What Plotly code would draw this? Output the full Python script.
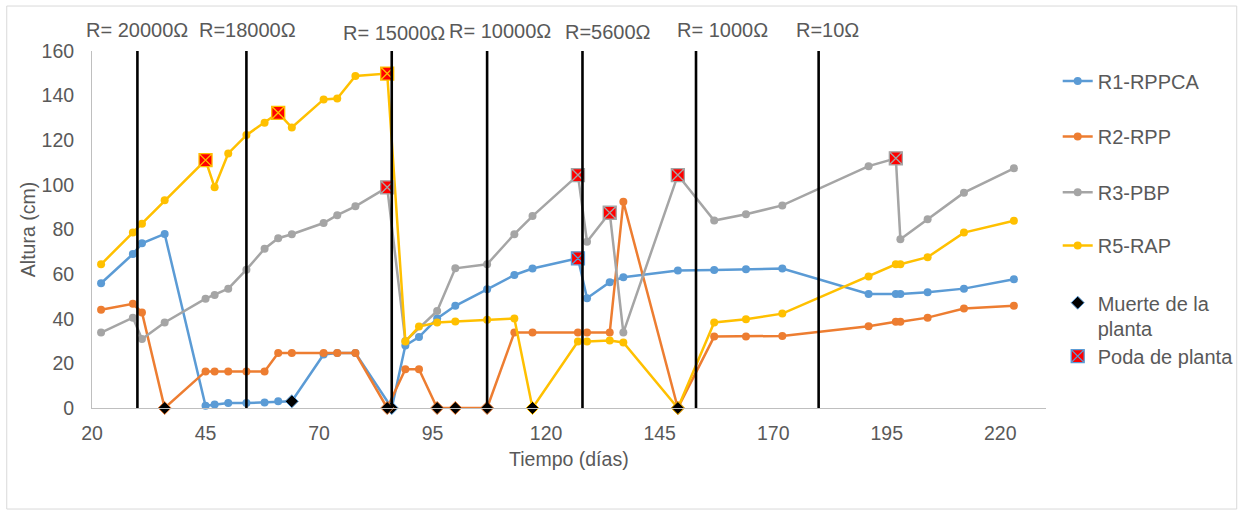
import plotly.graph_objects as go

# Días de muestreo y altura (cm) por reactor
dias_r1 = [22, 29, 31, 36, 45, 47, 50, 54, 58, 61, 64, 71, 74, 78, 86, 89, 92, 96, 100, 107,
           113, 117, 127, 129, 134, 137, 149, 157, 164, 172, 191, 197, 198, 204, 212, 223]
altura_r1 = [55.9, 69.0, 73.8, 78.0, 1.0, 1.6, 2.2, 2.2, 2.5, 3.0, 3.0, 24.0, 24.6, 24.6, 0, 28.0,
             31.8, 40.1, 45.8, 53.2, 59.6, 62.5, 67.1, 49.2, 56.4, 58.6, 61.6, 61.9, 62.2, 62.5,
             51.1, 51.1, 51.1, 51.9, 53.5, 57.7]

dias_r2 = [22, 29, 31, 36, 45, 47, 50, 54, 58, 61, 64, 71, 74, 78, 85, 89, 92, 96, 100, 107,
           113, 117, 127, 129, 134, 137, 149, 157, 164, 172, 191, 197, 198, 204, 212, 223]
altura_r2 = [44.0, 46.7, 42.8, 0, 16.4, 16.4, 16.4, 16.4, 16.4, 24.6, 24.6, 24.6, 24.6, 24.6, 0,
             17.4, 17.4, 0, 0, 0, 33.8, 33.8, 33.8, 33.8, 33.8, 92.4, 0, 32.0, 32.0, 32.3, 36.6,
             38.7, 38.7, 40.5, 44.6, 45.8]

dias_r3 = [22, 29, 31, 36, 45, 47, 50, 54, 58, 61, 64, 71, 74, 78, 85, 89, 96, 100, 107, 113,
           117, 127, 129, 134, 137, 149, 157, 164, 172, 191, 197, 198, 204, 212, 223]
altura_r3 = [33.8, 40.5, 30.9, 38.3, 49.0, 50.7, 53.5, 62.0, 71.4, 76.1, 77.9, 82.9, 86.4, 90.4,
             98.9, 30.0, 43.5, 62.6, 64.4, 77.9, 86.0, 104.4, 74.5, 87.5, 33.8, 104.4, 84.0, 86.8,
             90.8, 108.4, 111.9, 75.6, 84.6, 96.5, 107.4]

dias_r5 = [22, 29, 31, 36, 45, 47, 50, 54, 58, 61, 64, 71, 74, 78, 85, 89, 92, 96, 100, 107,
           113, 117, 127, 129, 134, 137, 149, 157, 164, 172, 191, 197, 198, 204, 212, 223]
altura_r5 = [64.4, 78.6, 82.6, 93.1, 111.1, 98.9, 114.1, 122.3, 127.8, 132.3, 125.7, 138.3, 138.7,
             148.8, 149.9, 29.8, 36.5, 38.3, 38.8, 39.5, 40.1, 0, 29.8, 29.8, 30.2, 29.4, 0, 38.3,
             39.8, 42.3, 58.9, 64.4, 64.4, 67.6, 78.6, 83.9]

# Eventos: muerte y poda de planta (día del evento en cada reactor)
muerte_r1 = [64, 86]
muerte_r2 = [36, 85, 96, 100, 107, 149]
muerte_r5 = [117, 149]
poda_r1 = [127]
poda_r3 = [85, 127, 134, 149, 197]
poda_r5 = [45, 61, 85]

# Cambios de resistencia externa
cambio_dias = [30, 54, 86, 107, 128, 153, 180]
resistencias = ["R= 20000Ω", "R=18000Ω", "R= 15000Ω", "R= 10000Ω", "R=5600Ω", "R= 1000Ω", "R=10Ω"]

AZUL, NARANJA, GRIS, AMARILLO = "#5B9BD5", "#ED7D31", "#A5A5A5", "#FFC000"
TEXTO = "#595959"
FUENTE = "Liberation Sans, Arial, sans-serif"

series = [
    ("R1-RPPCA", dias_r1, altura_r1, AZUL),
    ("R2-RPP", dias_r2, altura_r2, NARANJA),
    ("R3-PBP", dias_r3, altura_r3, GRIS),
    ("R5-RAP", dias_r5, altura_r5, AMARILLO),
]

fig = go.Figure()

for i, (nombre, x, y, color) in enumerate(series):
    fig.add_trace(go.Scatter(
        x=x, y=y, mode="lines+markers", name=nombre,
        line=dict(color=color, width=2.5),
        marker=dict(symbol="circle", size=8, color=color),
        cliponaxis=False,
        legend="legend" if i == 0 else f"legend{i + 1}",
    ))


def eventos(dias_evento, x, y):
    return [(d, y[x.index(d)]) for d in dias_evento]


# Marcadores de muerte de la planta
muertes = []
for dias_evento, (_, x, y, color) in [(muerte_r1, series[0]), (muerte_r2, series[1]), (muerte_r5, series[3])]:
    muertes += [(d, v, color) for d, v in eventos(dias_evento, x, y)]
fig.add_trace(go.Scatter(
    x=[m[0] for m in muertes], y=[m[1] for m in muertes], mode="markers",
    name="Muerte de la<br>planta",
    marker=dict(symbol="diamond", size=10, color="black",
                line=dict(color=[m[2] for m in muertes], width=1)),
    cliponaxis=False, legend="legend5",
))

# Marcadores de poda
podas = []
for dias_evento, (_, x, y, color) in [(poda_r1, series[0]), (poda_r3, series[2]), (poda_r5, series[3])]:
    podas += [(d, v, color) for d, v in eventos(dias_evento, x, y)]
fig.add_trace(go.Scatter(
    x=[p[0] for p in podas], y=[p[1] for p in podas], mode="markers",
    name="Poda de planta",
    marker=dict(symbol="square-x", size=13, color="red",
                line=dict(color=[p[2] for p in podas], width=1.3)),
    cliponaxis=False, legend="legend6",
))

# Líneas verticales de cambio de resistencia
for d in cambio_dias:
    fig.add_shape(type="line", xref="x", yref="paper", x0=d, x1=d, y0=0, y1=1,
                  line=dict(color="black", width=2.6), layer="above")

label_shift = [-0.5, 0.7, 2.2, 12.8, 25.3, 26.0, 9.2]
label_y = [1.060, 1.060, 1.051, 1.055, 1.053, 1.060, 1.058]
for d, txt, dx, yy in zip(cambio_dias, resistencias, label_shift, label_y):
    fig.add_annotation(x=d, y=yy, xref="x", yref="paper", text=txt, showarrow=False,
                       xshift=dx, xanchor="center", yanchor="middle",
                       font=dict(size=20, color=TEXTO, family=FUENTE))

# Marco exterior del gráfico
fig.add_shape(type="rect", xref="paper", yref="paper",
              x0=-0.0894, x1=1.2003, y0=-0.283, y1=1.126,
              line=dict(color="#D9D9D9", width=1), fillcolor="rgba(0,0,0,0)", layer="below")

# Una leyenda por elemento, colocadas respecto al lienzo completo
leg_common = dict(x=0.8523, xref="container", yref="container", xanchor="left", yanchor="middle",
                  bgcolor="rgba(0,0,0,0)", borderwidth=0, valign="top",
                  font=dict(size=20, color=TEXTO, family=FUENTE))
legend_y = [0.8425, 0.7350, 0.6266, 0.5231, 0.3870, 0.3085]
legends = {}
for i, yy in enumerate(legend_y):
    key = "legend" if i == 0 else f"legend{i + 1}"
    legends[key] = dict(leg_common, y=yy)

fig.update_layout(
    width=1241, height=515,
    margin=dict(l=92, r=193, t=51, b=107),
    paper_bgcolor="white", plot_bgcolor="white",
    font=dict(family=FUENTE, size=20, color=TEXTO),
    showlegend=True,
    xaxis=dict(
        range=[20, 230], tick0=20, dtick=25, showgrid=False, zeroline=False,
        showline=True, linecolor="#BFBFBF", linewidth=1,
        ticks="outside", ticklen=8, tickcolor="rgba(0,0,0,0)",
        tickfont=dict(size=19.5, color=TEXTO),
        title=dict(text="Tiempo (días)", font=dict(size=19.5, color=TEXTO), standoff=8),
    ),
    yaxis=dict(
        range=[0, 160], tick0=0, dtick=20, showgrid=False, zeroline=False,
        showline=True, linecolor="#BFBFBF", linewidth=1,
        ticks="outside", ticklen=13, tickcolor="rgba(0,0,0,0)",
        tickfont=dict(size=19.5, color=TEXTO),
        title=dict(text="Altura (cm)", font=dict(size=19.5, color=TEXTO), standoff=0),
    ),
    **legends,
)

fig.write_html("out.html")
